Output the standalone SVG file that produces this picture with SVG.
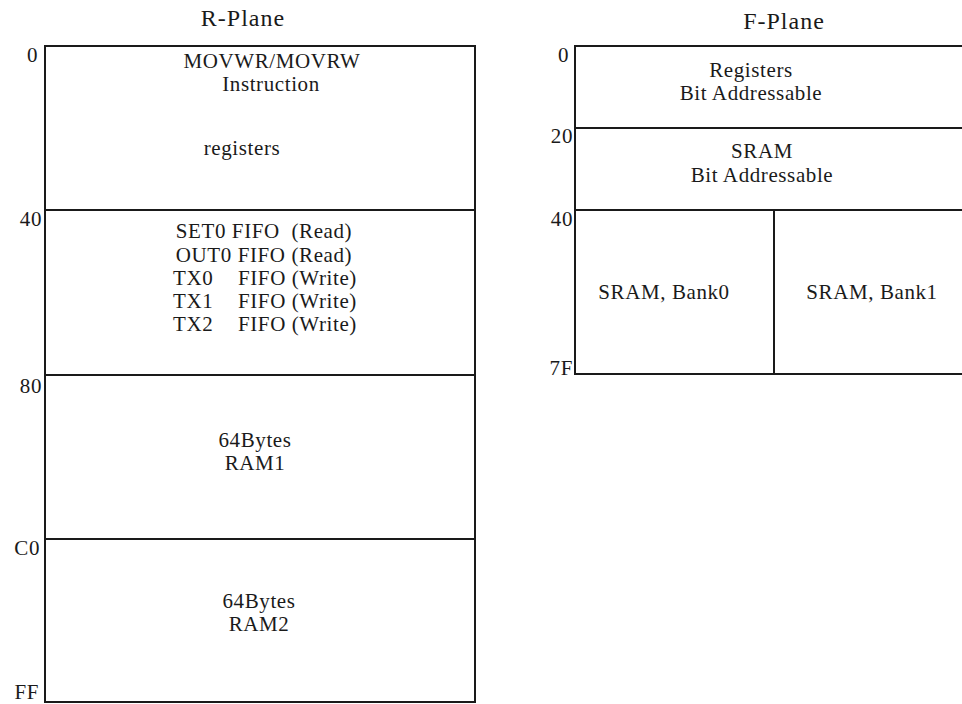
<svg xmlns="http://www.w3.org/2000/svg" width="962" height="704" viewBox="0 0 962 704">
<style>
text{font-family:"Liberation Serif","Times New Roman",serif;font-size:21px;letter-spacing:0.6px;fill:#1a1a1a}
.c{text-anchor:middle}
.r{text-anchor:end}
.h{font-size:24px;letter-spacing:1px}
.box{fill:#fff;stroke:#1a1a1a;stroke-width:2}
.ln{stroke:#1a1a1a;stroke-width:2;fill:none}
</style>
<rect width="962" height="704" fill="#fff"/>
<g id="r-plane">
  <text class="c h" x="243" y="26">R-Plane</text>
  <g id="r-registers">
    <rect class="box" x="45" y="46" width="430" height="164"/>
    <text class="c" x="272" y="68">MOVWR/MOVRW</text>
    <text class="c" x="271" y="91">Instruction</text>
    <text class="c" x="242" y="155">registers</text>
  </g>
  <g id="r-fifo">
    <rect class="box" x="45" y="210" width="430" height="165"/>
    <text class="c" x="264" y="238" xml:space="preserve">SET0 FIFO  (Read)</text>
    <text class="c" x="264" y="262">OUT0 FIFO (Read)</text>
    <text x="173" y="285">TX0</text><text x="238" y="285">FIFO (Write)</text>
    <text x="173" y="308">TX1</text><text x="238" y="308">FIFO (Write)</text>
    <text x="173" y="331">TX2</text><text x="238" y="331">FIFO (Write)</text>
  </g>
  <g id="r-ram1">
    <rect class="box" x="45" y="375" width="430" height="164"/>
    <text class="c" x="255" y="447">64Bytes</text>
    <text class="c" x="255" y="470">RAM1</text>
  </g>
  <g id="r-ram2">
    <rect class="box" x="45" y="539" width="430" height="163"/>
    <text class="c" x="259" y="608">64Bytes</text>
    <text class="c" x="259" y="631">RAM2</text>
  </g>
  <g id="r-addr">
    <text class="r" x="38" y="62">0</text>
    <text class="r" x="42" y="226">40</text>
    <text class="r" x="42" y="393">80</text>
    <text class="r" x="40" y="555">C0</text>
    <text class="r" x="39" y="699">FF</text>
  </g>
</g>
<g id="f-plane">
  <text class="c h" x="784" y="29">F-Plane</text>
  <g id="f-registers">
    <path class="ln" d="M975 46 H575 V128 H975"/>
    <text class="c" x="751" y="77">Registers</text>
    <text class="c" x="751" y="100">Bit Addressable</text>
  </g>
  <g id="f-sram">
    <path class="ln" d="M575 128 V210 H975"/>
    <text class="c" x="762" y="158">SRAM</text>
    <text class="c" x="762" y="182">Bit Addressable</text>
  </g>
  <g id="f-bank0">
    <path class="ln" d="M575 210 V374 H774 V210"/>
    <text class="c" x="664" y="299">SRAM, Bank0</text>
  </g>
  <g id="f-bank1">
    <path class="ln" d="M774 374 H975"/>
    <text class="c" x="872" y="299">SRAM, Bank1</text>
  </g>
  <g id="f-addr">
    <text class="r" x="569" y="62">0</text>
    <text class="r" x="573" y="143">20</text>
    <text class="r" x="573" y="226">40</text>
    <text class="r" x="573" y="375">7F</text>
  </g>
</g>
<g id="connectors"></g>
</svg>
